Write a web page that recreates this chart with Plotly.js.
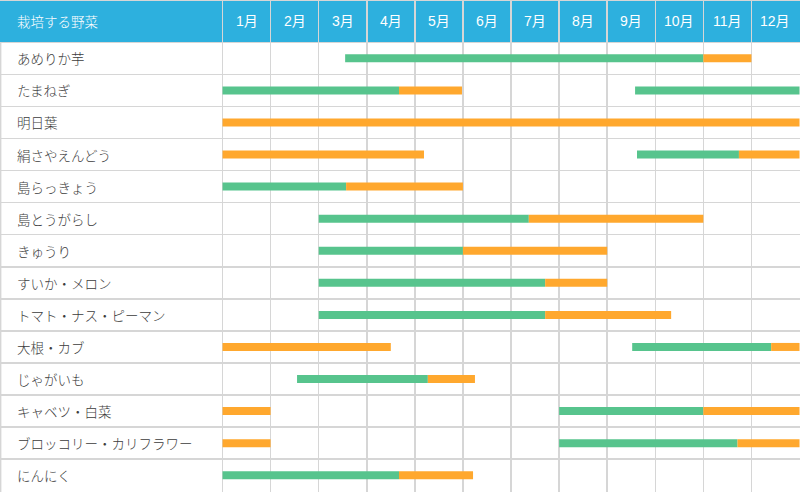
<!DOCTYPE html>
<html>
<head>
<meta charset="utf-8">
<script src="https://cdn.plot.ly/plotly-3.0.1.min.js"></script>
<style>
html,body{margin:0;padding:0;background:#fff;}
#chart{width:800px;height:492px;}
</style>
</head>
<body>
<div id="chart"></div>
<script>
// Vegetables (rows, top to bottom)
const vegetables = ["あめりか芋","たまねぎ","明日葉","絹さやえんどう","島らっきょう","島とうがらし","きゅうり","すいか・メロン","トマト・ナス・ピーマン","大根・カブ","じゃがいも","キャベツ・白菜","ブロッコリー・カリフラワー","にんにく"];
const monthLabels = ["1月","2月","3月","4月","5月","6月","7月","8月","9月","10月","11月","12月"];
const headerLabel = "栽培する野菜";

// Growing period segments (green): row index, start, end (in months from start of Jan)
const growRow   = [0,    1,    1,    3,    4,    5,    6,    7,    8,    9,    10,   11,   12,   13];
const growStart = [2.55, 0,    8.58, 8.62, 0,    2.0,  2.0,  2.0,  2.0,  8.52, 1.55, 7.0,  7.0,  0];
const growEnd   = [10.0, 3.67, 12,   10.74,2.57, 6.37, 5.0,  6.71, 6.71, 11.41,4.27, 10.0, 10.71,3.67];

// Harvest period segments (orange)
const harvestRow   = [0,    1,    2,  3,    3,    4,    5,    6,   7,    8,    9,   9,    10,   11, 11, 12, 12,    13];
const harvestStart = [10.0, 3.67, 0,  0,    10.74,2.57, 6.37, 5.0, 6.71, 6.71, 0,   11.41,4.27, 0,  10, 0,  10.71, 3.67];
const harvestEnd   = [11.0, 4.98, 12, 4.19, 12,   5.0,  10.0, 8.0, 8.0,  9.33, 3.5, 12,   5.25, 1,  12, 1,  12,    5.21];

const GREEN = "#57c48d", ORANGE = "#ffa82e", BLUE = "#2db0de", GRID = "#d6d6d6";
const BAR_W = 0.25;

function barTrace(rows, starts, ends, color){
  return {
    type: "bar", orientation: "h",
    y: rows, base: starts, x: ends.map((e,i)=>e-starts[i]),
    width: rows.map(()=>BAR_W),
    marker: {color: color, line: {width: 0}},
    hoverinfo: "skip", showlegend: false
  };
}

const traces = [
  barTrace(growRow, growStart, growEnd, GREEN),
  barTrace(harvestRow, harvestStart, harvestEnd, ORANGE)
];

const xMin = -4.628, xMax = 12.01;
const yTop = -1.819, yBottom = 13.523;
const headerY = (yTop + -0.5) / 2;
const jpFont = "'Noto Sans CJK JP', 'Noto Sans', sans-serif";
const numFont = "'Liberation Sans', 'Noto Sans CJK JP', sans-serif";

const annotations = [];
annotations.push({xref:"paper", yref:"y", x: 15/800, y: headerY, xanchor:"left", yanchor:"middle",
  text: headerLabel, showarrow:false, font:{family:jpFont, size:13.5, color:"#ffffff", weight:300}});
monthLabels.forEach((m,i)=>{
  annotations.push({xref:"x", yref:"y", x: i+0.5, y: headerY, xanchor:"center", yanchor:"middle",
    text: m, showarrow:false, font:{family:numFont, size:14, color:"#ffffff"}});
});
vegetables.forEach((v,i)=>{
  annotations.push({xref:"paper", yref:"y", x: 15/800, y: i, xanchor:"left", yanchor:"middle",
    text: v, showarrow:false, font:{family:jpFont, size:13.5, color:"#3c3c3c", weight:300}});
});

const shapes = [
  {type:"rect", layer:"below", xref:"paper", yref:"y", x0:0, x1:1, y0:yTop, y1:-0.5,
   fillcolor: BLUE, line:{width:0}},
  {type:"line", layer:"above", xref:"paper", yref:"y", x0:0.0008, x1:0.0008, y0:-0.5, y1:yBottom,
   line:{color:GRID, width:1.5}},
  {type:"line", layer:"above", xref:"paper", yref:"paper", x0:0, x1:1, y0:0.9995, y1:0.9995,
   line:{color:GRID, width:1.5}}
];

const layout = {
  width: 800, height: 492,
  margin: {l:0, r:0, t:0, b:0, pad:0},
  paper_bgcolor: "#ffffff", plot_bgcolor: "#ffffff",
  barmode: "overlay",
  showlegend: false,
  xaxis: {range:[xMin, xMax], tickvals: monthLabels.map((m,i)=>i).concat([12]),
    showgrid:true, gridcolor:GRID, gridwidth:1.5, showticklabels:false, zeroline:false, ticks:"", fixedrange:true},
  yaxis: {range:[yBottom, yTop], tickvals: vegetables.map((v,i)=>i-0.5).concat([vegetables.length-0.5]),
    showgrid:true, gridcolor:GRID, gridwidth:1.5, showticklabels:false, zeroline:false, ticks:"", fixedrange:true},
  shapes: shapes,
  annotations: annotations
};

Plotly.newPlot("chart", traces, layout, {displayModeBar:false, staticPlot:true});
</script>
</body>
</html>
